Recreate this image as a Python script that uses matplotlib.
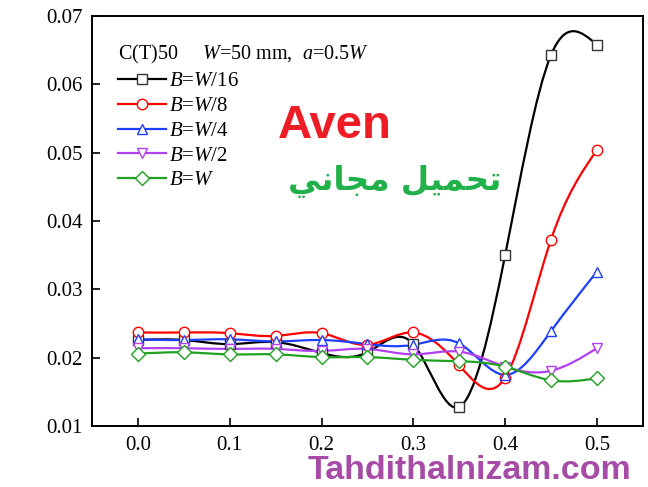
import numpy as np
import matplotlib
matplotlib.use("Agg")
import matplotlib.pyplot as plt
from matplotlib.path import Path
from matplotlib.patches import PathPatch
from matplotlib.lines import Line2D

plt.rcParams['font.family'] = ['Liberation Serif', 'DejaVu Serif']
plt.rcParams['mathtext.fontset'] = 'custom'
plt.rcParams['mathtext.rm'] = 'Liberation Serif'
plt.rcParams['mathtext.it'] = 'Liberation Serif:italic'

x_vals = [0.0, 0.05, 0.1, 0.15, 0.2, 0.25, 0.3, 0.35, 0.4, 0.45, 0.5]
b_w16 = [0.0226, 0.0226, 0.0220, 0.0223, 0.0207, 0.0208, 0.0220, 0.0128, 0.0350, 0.0643, 0.0658]
b_w8 = [0.0237, 0.0237, 0.0236, 0.0232, 0.0236, 0.0219, 0.0237, 0.0189, 0.0171, 0.0373, 0.0504]
b_w4 = [0.0227, 0.0226, 0.0227, 0.0224, 0.0226, 0.0220, 0.0219, 0.0221, 0.0175, 0.0239, 0.0326]
b_w2 = [0.0214, 0.0214, 0.0213, 0.0213, 0.0210, 0.0213, 0.0205, 0.0209, 0.0187, 0.0181, 0.0214]
b_w = [0.0206, 0.0208, 0.0205, 0.0205, 0.0201, 0.0201, 0.0197, 0.0195, 0.0187, 0.0167, 0.0170]

x_ticks = [0.0, 0.1, 0.2, 0.3, 0.4, 0.5]
x_ticklabels = ['0.0', '0.1', '0.2', '0.3', '0.4', '0.5']
y_ticks = [0.01, 0.02, 0.03, 0.04, 0.05, 0.06, 0.07]
y_ticklabels = ['0.01', '0.02', '0.03', '0.04', '0.05', '0.06', '0.07']

series = [
    (b_w16, '$B$=$W$/16', 'black', 's'),
    (b_w8, '$B$=$W$/8', '#ff0000', 'o'),
    (b_w4, '$B$=$W$/4', '#1f3fff', '^'),
    (b_w2, '$B$=$W$/2', '#b040f0', 'v'),
    (b_w, '$B$=$W$', '#22a022', 'D'),
]


def spline_path(xs, ys):
    xs = np.asarray(xs, float)
    ys = np.asarray(ys, float)
    n = len(xs)
    h = np.diff(xs)
    A = np.zeros((n, n))
    r = np.zeros(n)
    A[0, 0] = 1
    A[-1, -1] = 1
    for i in range(1, n - 1):
        A[i, i - 1] = h[i - 1]
        A[i, i] = 2 * (h[i - 1] + h[i])
        A[i, i + 1] = h[i]
        r[i] = 6 * ((ys[i + 1] - ys[i]) / h[i] - (ys[i] - ys[i - 1]) / h[i - 1])
    M = np.linalg.solve(A, r)
    verts = [(xs[0], ys[0])]
    codes = [Path.MOVETO]
    for i in range(n - 1):
        hi = h[i]
        d = (ys[i + 1] - ys[i]) / hi
        s0 = d - hi * (2 * M[i] + M[i + 1]) / 6
        s1 = d + hi * (M[i] + 2 * M[i + 1]) / 6
        verts += [(xs[i] + hi / 3, ys[i] + s0 * hi / 3),
                  (xs[i + 1] - hi / 3, ys[i + 1] - s1 * hi / 3),
                  (xs[i + 1], ys[i + 1])]
        codes += [Path.CURVE4] * 3
    return Path(verts, codes)


fig = plt.figure(figsize=(6.48, 4.87), dpi=100)
ax = fig.add_axes([0.142, 0.125, 0.850, 0.842])

handles = []
for ys, lab, col, mk in series:
    ms = 7.5 if mk != 'D' else 6.8
    ax.add_patch(PathPatch(spline_path(x_vals, ys), facecolor='none',
                           edgecolor=col, lw=1.6, zorder=2))
    ax.plot(x_vals, ys, linestyle='none', marker=mk, markersize=ms,
            markerfacecolor='white', markeredgecolor=col if col != 'black' else '#333333',
            markeredgewidth=1.0, zorder=3)
    handles.append(Line2D([], [], color=col, lw=1.6, marker=mk, markersize=ms,
                          markerfacecolor='white',
                          markeredgecolor=col if col != 'black' else '#333333',
                          markeredgewidth=1.0))

ax.set_xlim(-0.05, 0.55)
ax.set_ylim(0.01, 0.07)
ax.set_xticks(x_ticks)
ax.set_yticks(y_ticks)
ax.set_xticklabels(x_ticklabels, fontfamily='Liberation Serif', fontsize=15)
ax.set_yticklabels(y_ticklabels, fontfamily='Liberation Serif', fontsize=15)
ax.tick_params(direction='in', length=6, width=1.2, pad=7)
for sp in ax.spines.values():
    sp.set_linewidth(1.4)

leg = ax.legend(handles, [s[1] for s in series],
                title='C(T)50     $W$=50 mm,  $a$=0.5$W$',
                loc='upper left', bbox_to_anchor=(0.01, 0.985), frameon=False,
                fontsize=15, title_fontsize=14.5, handlelength=2.3,
                handletextpad=0.15, labelspacing=0.25, borderaxespad=0.6)
leg._legend_box.align = 'left'
leg._legend_box.sep = 4

# watermarks
fig.text(278 / 648, 1 - 138 / 487, 'Aven', color='#ee1c25', fontsize=34,
         fontweight='bold', family='Liberation Sans')
arabic = '\ufef2\ufee7\ufe8e\ufea0\ufee3 \ufede\ufef4\ufee4\ufea4\ufe97'
fig.text(288 / 648, 1 - 190 / 487, arabic, color='#22b04a', fontsize=23.5,
         fontweight='bold', family=['DejaVu Sans'])
fig.text(308 / 648, 1 - 479 / 487, 'Tahdithalnizam.com', color='#a64ca6', fontsize=24.5,
         fontweight='bold', family='Liberation Sans')

fig.savefig('out.png', dpi=100)
